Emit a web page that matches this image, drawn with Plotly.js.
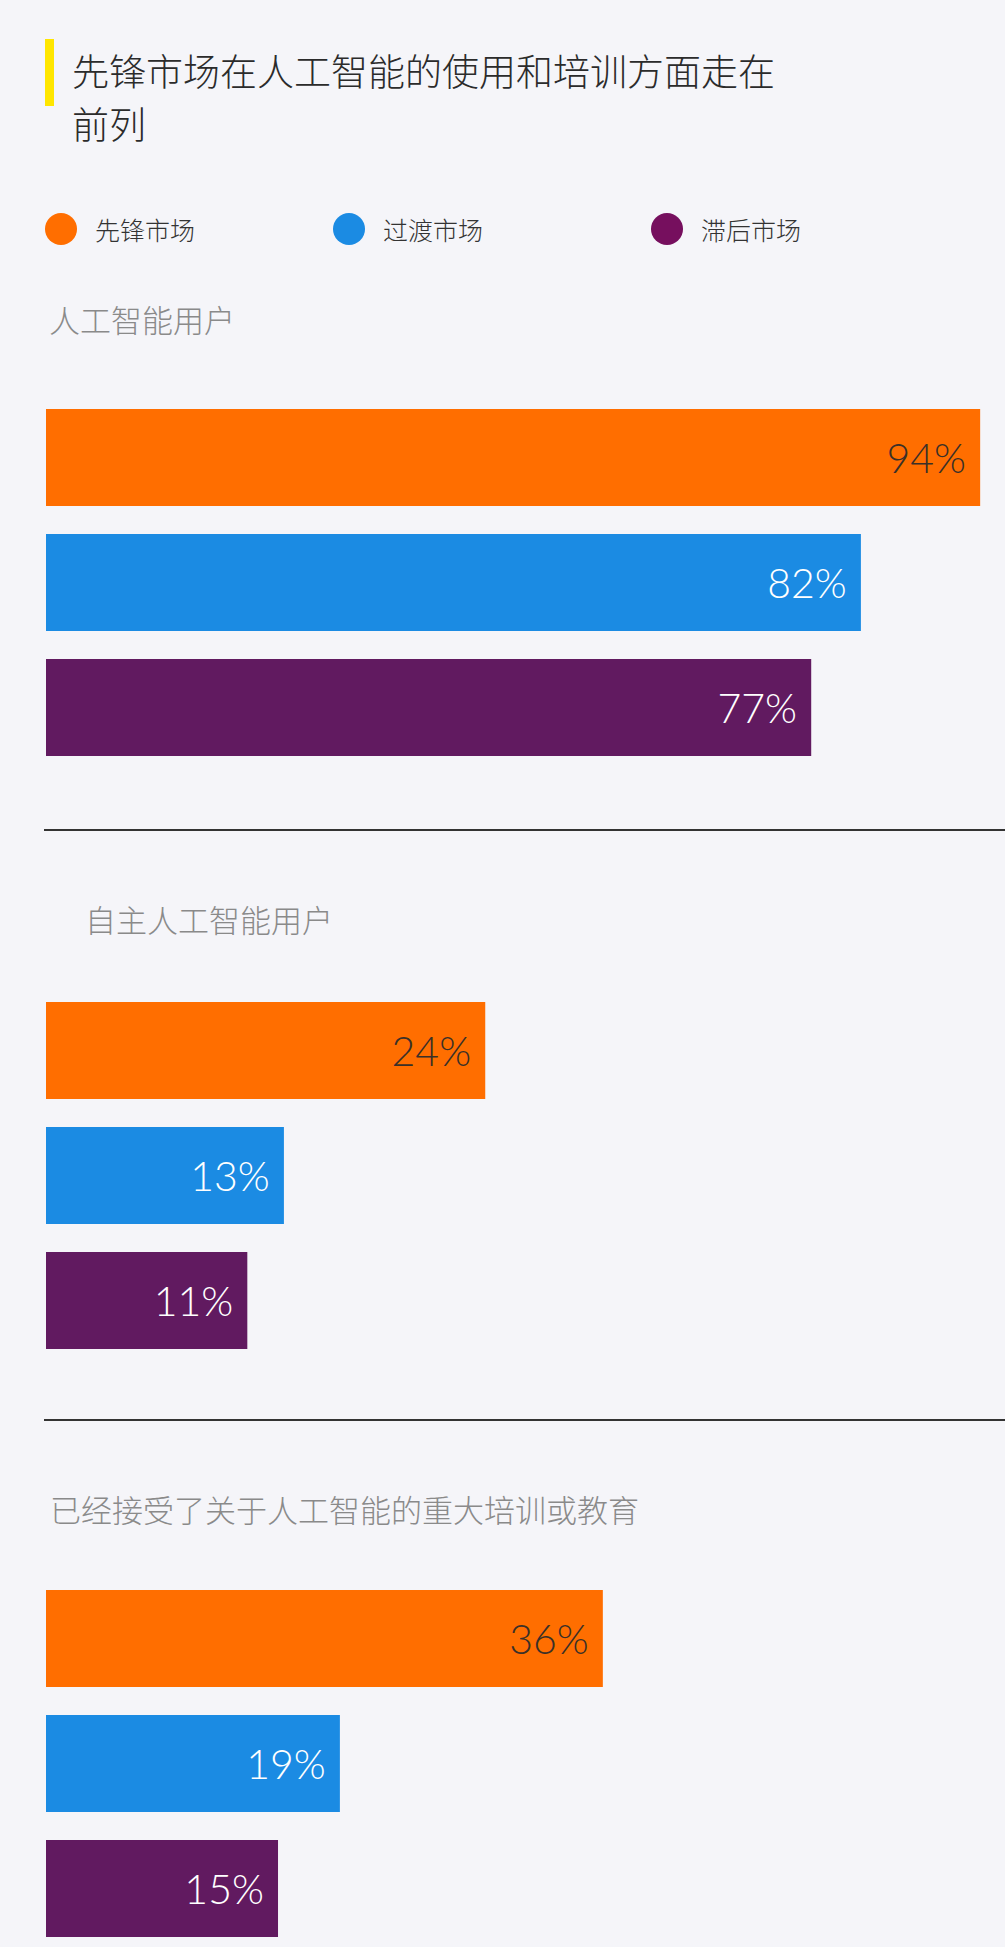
<!DOCTYPE html>
<html>
<head>
<meta charset="utf-8">
<script src="https://cdn.plot.ly/plotly-3.0.1.min.js"></script>
<style>
  html, body { margin: 0; padding: 0; background: #F5F5F9; }
  #chart { width: 1005px; height: 1947px; }
</style>
</head>
<body>
<div id="chart"></div>
<script>
// ---- data ----
const titleLines = ['先锋市场在人工智能的使用和培训方面走在', '前列'];
const markets = ['先锋市场', '过渡市场', '滞后市场'];
const sectionTitles = ['人工智能用户', '自主人工智能用户', '已经接受了关于人工智能的重大培训或教育'];
const aiUsers = [94, 82, 77];
const autonomousAiUsers = [24, 13, 11];
const majorTraining = [36, 19, 15];

// ---- styles ----
const W = 1005, H = 1947;
const px = v => v / W;
const py = v => 1 - v / H;
const barColors = ['#FF6E00', '#1B8BE3', '#611A60'];
const legendColors = ['#FF6E00', '#1B8BE3', '#760F5E'];
const labelColors = ['#3a3028', '#FFFFFF', '#FFFFFF'];
const cjk = '"Noto Sans CJK SC", "Noto Sans", sans-serif';
const num = 'Lato, "Noto Sans CJK SC", sans-serif';

const sectionValues = [aiUsers, autonomousAiUsers, majorTraining];
const xMax = [96.5, 52.4, 62];
const yDom = [[395, 770], [988, 1363], [1576, 1947]];
const yRange = [[2.5, -0.5], [2.5, -0.5], [2.468, -0.5]];
const labelPos = [[47, 319], [83, 918], [48, 1508]];
const titleY = [70, 123];

const traces = sectionValues.map((vals, i) => ({
  type: 'bar',
  orientation: 'h',
  x: vals,
  y: markets,
  xaxis: i === 0 ? 'x' : 'x' + (i + 1),
  yaxis: i === 0 ? 'y' : 'y' + (i + 1),
  marker: { color: barColors },
  texttemplate: '%{x}%\u00a0',
  textposition: 'inside',
  insidetextanchor: 'end',
  textangle: 0,
  textfont: { family: num, size: 41, color: labelColors, weight: 300 },
  hoverinfo: 'skip',
  showlegend: false
}));

const layout = {
  width: W, height: H,
  margin: { l: 0, r: 0, t: 0, b: 0 },
  paper_bgcolor: '#F5F5F9',
  plot_bgcolor: '#F5F5F9',
  bargap: 0.224,
  showlegend: false,
  shapes: [],
  annotations: []
};

// title (two lines, spaced as in the original)
titleLines.forEach((t, i) => layout.annotations.push({
  text: t, xref: 'paper', yref: 'paper',
  x: px(70), y: py(titleY[i]), xanchor: 'left', yanchor: 'middle',
  showarrow: false, font: { family: cjk, size: 37, color: '#2b2b2b', weight: 300 }
}));

for (let i = 0; i < 3; i++) {
  const sx = i === 0 ? '' : String(i + 1);
  layout['xaxis' + sx] = {
    domain: [px(46), 1], range: [0, xMax[i]], anchor: 'y' + sx,
    visible: false, fixedrange: true
  };
  layout['yaxis' + sx] = {
    domain: [py(yDom[i][1]), py(yDom[i][0])], range: yRange[i], anchor: 'x' + sx,
    type: 'category', visible: false, fixedrange: true
  };
  layout.annotations.push({
    text: sectionTitles[i], xref: 'paper', yref: 'paper',
    x: px(labelPos[i][0]), y: py(labelPos[i][1]), xanchor: 'left', yanchor: 'middle',
    showarrow: false, font: { family: cjk, size: 31, color: '#8a8a8a', weight: 300 }
  });
}

// yellow accent bar by title
layout.shapes.push({
  type: 'rect', xref: 'paper', yref: 'paper',
  x0: px(45), x1: px(54), y0: py(106), y1: py(39),
  fillcolor: '#FFE600', line: { width: 0 }
});
// separators
[830, 1420].forEach(yy => layout.shapes.push({
  type: 'line', xref: 'paper', yref: 'paper',
  x0: px(44), x1: 1, y0: py(yy), y1: py(yy),
  line: { color: '#333333', width: 2 }
}));
// custom legend
const legendX = [61, 349, 667];
markets.forEach((m, i) => {
  layout.shapes.push({
    type: 'circle', xref: 'paper', yref: 'paper',
    x0: px(legendX[i] - 16), x1: px(legendX[i] + 16),
    y0: py(245), y1: py(213),
    fillcolor: legendColors[i], line: { width: 0 }
  });
  layout.annotations.push({
    text: m, xref: 'paper', yref: 'paper',
    x: px(legendX[i] + 32), y: py(229), xanchor: 'left', yanchor: 'middle',
    showarrow: false, font: { family: cjk, size: 25, color: '#333333', weight: 300 }
  });
});

Plotly.newPlot('chart', traces, layout, { displayModeBar: false, staticPlot: true });
</script>
</body>
</html>
